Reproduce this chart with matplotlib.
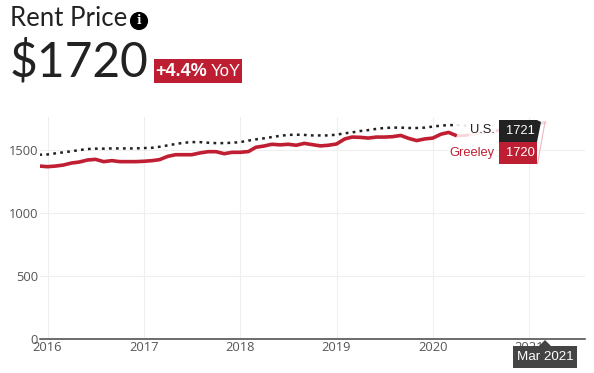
import numpy as np
import pandas as pd
import matplotlib
matplotlib.use("Agg")
import matplotlib.pyplot as plt
import matplotlib.dates as mdates
from matplotlib.patches import Polygon, Rectangle

# Dane (Dec 2015 - Apr 2020)
months = pd.date_range("2015-12-01", "2020-04-01", freq="MS")
greeley = [1375, 1370, 1375, 1383, 1399, 1407, 1423, 1428, 1410, 1418, 1410, 1410, 1410,
           1413, 1418, 1426, 1452, 1465, 1465, 1465, 1479, 1489, 1489, 1473, 1484,
           1484, 1490, 1524, 1534, 1548, 1543, 1548, 1540, 1555, 1545, 1535, 1540,
           1550, 1590, 1605, 1603, 1597, 1605, 1605, 1608, 1618, 1595, 1577, 1590,
           1597, 1628, 1642, 1615]
us = [1465, 1467, 1476, 1484, 1492, 1502, 1510, 1513, 1513, 1515, 1515, 1515, 1515,
      1518, 1520, 1528, 1539, 1550, 1560, 1565, 1565, 1560, 1557, 1557, 1560,
      1565, 1577, 1587, 1595, 1605, 1615, 1622, 1624, 1622, 1618, 1618, 1618,
      1624, 1635, 1642, 1653, 1660, 1670, 1677, 1680, 1680, 1677, 1677, 1680,
      1688, 1696, 1700, 1700]

# Przyciemniona czesc (Apr 2020 - Mar 2021)
fade_months = pd.to_datetime(["2020-04-01", "2020-05-01", "2020-09-01", "2021-03-01"])
greeley_fade = [1615, 1617, 1655, 1720]
us_fade = [1700, 1696, 1700, 1721]

yticks = [0, 500, 1000, 1500]
years = [2016, 2017, 2018, 2019, 2020, 2021]

W, H = 594, 373
plt.rcParams["font.family"] = ["Open Sans", "DejaVu Sans"]

fig = plt.figure(figsize=(W / 100, H / 100), dpi=100)

# Osie ustawione w pikselach: x 39.5-585, y 339.3-117
ax = fig.add_axes([39.5 / W, 1 - 339.3 / H, (585 - 39.5) / W, (339.3 - 117) / H])
ax.set_ylim(0, (339.3 - 117) / 0.126)
x0 = mdates.date2num(pd.Timestamp("2016-01-01"))
x1 = mdates.date2num(pd.Timestamp("2021-01-01"))
px_day = (529.3 - 47.5) / (x1 - x0)
ax.set_xlim(x0 - (47.5 - 39.5) / px_day, x0 + (585 - 47.5) / px_day)

ax.plot(fade_months, greeley_fade, color="#f6d5da", lw=2, zorder=2)
ax.plot(fade_months, us_fade, color="#e2e2e2", lw=1.5, ls=(0, (1.2, 2.2)), zorder=2)
ax.plot(months, us, color="#222222", lw=1.8, ls=(0, (1.1, 1.7)), zorder=3)
ax.plot(months, greeley, color="#c01f33", lw=2.6, zorder=4, solid_capstyle="butt")

ax.set_yticks(yticks)
ax.set_xticks([pd.Timestamp(f"{y}-01-01") for y in years])
ax.set_xticklabels([str(y) for y in years])
ax.grid(True, color="#efefef", lw=0.75)
ax.set_axisbelow(True)
for s in ["top", "right", "left"]:
    ax.spines[s].set_visible(False)
ax.spines["bottom"].set_color("#444444")
ax.spines["bottom"].set_linewidth(1.1)
ax.tick_params(length=0, labelsize=9.3, labelcolor="#555555")
ax.tick_params(axis="x", pad=1.5)
ax.tick_params(axis="y", pad=1)


# Wspolrzedne pikselowe (y liczone od gory)
def px(x, y):
    return x / W, 1 - y / H


def poly(points, **kw):
    fig.add_artist(Polygon([px(*p) for p in points], transform=fig.transFigure, **kw))


# Naglowek
fig.text(*px(10, 19), "Rent Price", fontsize=18.5, family="Lato", color="#222222", va="center")
fig.text(*px(10, 62), "$1720", fontsize=34.5, family="Lato", color="#222222", va="center")
fig.add_artist(Rectangle(px(154, 83), 88 / W, 24 / H, transform=fig.transFigure,
                         color="#be1e32", lw=0))
fig.text(*px(155, 71), "+4.4%", fontsize=13, family="Liberation Sans", color="white",
         fontweight="bold", va="center")
fig.text(*px(211, 71), "YoY", fontsize=12, family="Liberation Sans", color="white", va="center")

# Ikona info
fig.text(*px(139, 21), "i", fontsize=8.5, family="DejaVu Serif", color="white", fontweight="bold",
         ha="center", va="center",
         bbox=dict(boxstyle="circle,pad=0.22", fc="black", ec="none"))

# Etykiety koncowe
fig.text(*px(495, 130), "U.S.", fontsize=9.3, family="Liberation Sans", color="#222222",
         ha="right", va="center",
         bbox=dict(fc="white", ec="none", alpha=0.7, pad=1))
fig.text(*px(495, 153), "Greeley", fontsize=9.3, family="Liberation Sans", color="#c01f33",
         ha="right", va="center",
         bbox=dict(fc="white", ec="none", pad=1))
poly([(499, 120), (537, 120), (541, 122), (537, 142), (499, 142)], color="#222222", lw=0)
poly([(499, 142), (537, 142), (537, 164), (499, 164)], color="#be1e32", lw=0)
fig.add_artist(plt.Line2D([537.5, 545], [373 - 164, 373 - 122], transform=None, color="#f0b8c0", lw=0.8))
fig.text(*px(520, 131), "1721", fontsize=9.3, family="Liberation Sans", color="white", ha="center", va="center")
fig.text(*px(520, 153), "1720", fontsize=9.3, family="Liberation Sans", color="white", ha="center", va="center")

# Tooltip
poly([(513, 346), (539, 346), (545, 340), (551, 346), (577, 346), (577, 368), (513, 368)],
     color="#444444", lw=0, zorder=5)
fig.text(*px(545, 357), "Mar 2021", fontsize=9.6, family="Liberation Sans", color="white",
         ha="center", va="center", zorder=6)

fig.savefig("out.png", dpi=100)
